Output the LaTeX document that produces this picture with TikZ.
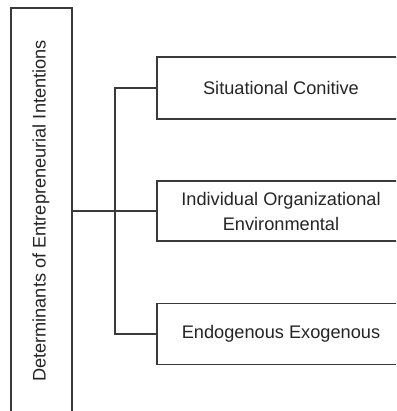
\documentclass[tikz,border=0pt]{standalone}
\usepackage{fontspec}
\setmainfont{Liberation Sans}
\definecolor{linec}{HTML}{3A3A3A}
\definecolor{textc}{HTML}{252525}
\tikzset{
  x=1pt, y=-1pt,
  box/.style={draw=linec, line width=1.4pt, rectangle, inner sep=0pt, text=textc,
    font=\fontsize{18.2}{25}\selectfont, align=center},
  conn/.style={draw=linec, line width=1.4pt},
}
\begin{document}
\begin{tikzpicture}
\useasboundingbox (0,0) rectangle (396,411);
\clip (0,0) rectangle (396,411);
\fill[white] (0,0) rectangle (396,411);
\node[box, minimum width=61pt, minimum height=406pt] (root) at (41.5,211) {};
\node[text=textc, font=\fontsize{18.2}{25}\selectfont, rotate=90] (rootlabel) at (41,211) {Determinants of Entrepreneurial Intentions};
\node[box, minimum width=248pt, minimum height=62pt] (a) at (281,88) {Situational Conitive};
\node[box, minimum width=248pt, minimum height=60pt] (b) at (281,211) {Individual Organizational\\Environmental};
\node[box, minimum width=248pt, minimum height=61pt] (c) at (281,334) {Endogenous Exogenous};
\coordinate (s) at (115,211);
\coordinate (st) at (115,88);
\coordinate (sb) at (115,334);
\draw[conn] (root.east |- s) -- (b.west);
\draw[conn] (a.west) -- (st) -- (sb) -- (c.west);
\end{tikzpicture}
\end{document}
